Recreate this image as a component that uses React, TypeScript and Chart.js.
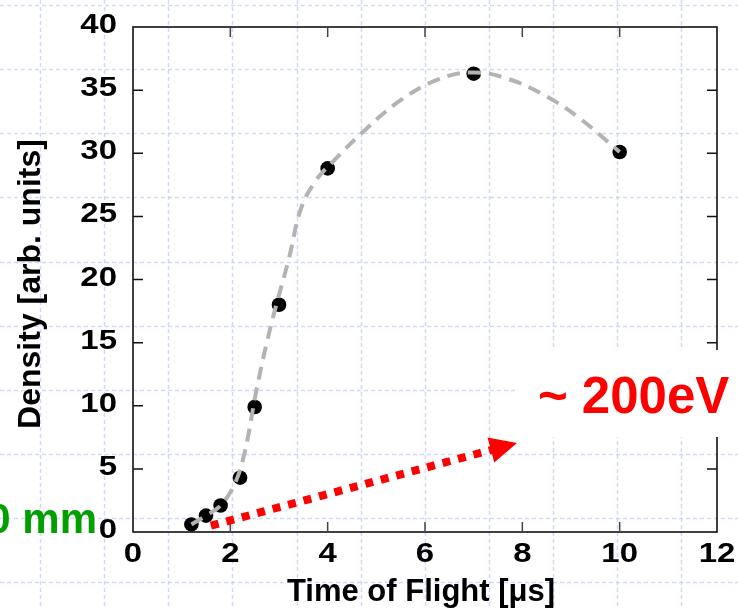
import React, { useEffect, useRef } from 'react';
import { Chart, registerables } from 'chart.js';

Chart.register(...registerables);

// ---- data ----
const measuredTime = [1.2, 1.5, 1.8, 2.2, 2.5, 3.0, 4.0, 7.0, 10.0];
const measuredDensity = [0.6, 1.3, 2.1, 4.3, 9.9, 18.0, 28.8, 36.3, 30.1];

const fitTime = [1.2, 1.5, 1.8, 2.1, 2.3, 2.55, 2.85, 3.2, 3.45, 3.75, 4.1, 4.7, 5.5, 6.3, 7.0, 7.7, 8.5, 9.2, 10.0];
const fitDensity = [0.6, 1.3, 2.1, 3.9, 6.4, 11.5, 16.6, 21.6, 25.6, 27.8, 29.3, 31.6, 34.2, 35.9, 36.4, 35.9, 34.5, 32.7, 30.1];

const xTickLabels = ['0', '2', '4', '6', '8', '10', '12'];
const yTickLabels = ['0', '5', '10', '15', '20', '25', '30', '35', '40'];

const xTitle = 'Time of Flight [\u03bcs]';
const yTitle = 'Density [arb. units]';
const energyLabel = '~ 200eV';
const distanceLabel = '0 mm';

// annotation anchors in data units (x: time, y: density)
const arrowFrom = { x: 1.6, y: 0.5 };
const arrowTo = { x: 7.89, y: 7.05 };
const energyAnchor = { x: 8.32, y: 9.43 };
const distanceAnchor = { x: -0.74, y: -0.08 };

const W = 738;
const H = 608;
const FONT = '"Liberation Sans", Arial, Helvetica, sans-serif';

function drawStretched(ctx: CanvasRenderingContext2D, text: string, x: number, y: number, align: CanvasTextAlign, sx: number) {
  ctx.save();
  ctx.translate(x, y);
  ctx.scale(sx, 1);
  ctx.textAlign = align;
  ctx.fillText(text, 0, 0);
  ctx.restore();
}

const backgroundPlugin = {
  id: 'slideBackground',
  beforeDraw(chart: any) {
    const ctx: CanvasRenderingContext2D = chart.ctx;
    ctx.save();
    ctx.fillStyle = '#ffffff';
    ctx.fillRect(0, 0, chart.width, chart.height);
    ctx.strokeStyle = 'rgba(185,203,245,0.7)';
    ctx.lineWidth = 1.5;
    ctx.setLineDash([4, 3]);
    const step = 64.15;
    for (let x = 40; x < chart.width; x += step) {
      ctx.beginPath();
      ctx.moveTo(Math.round(x) + 0.5, 0);
      ctx.lineTo(Math.round(x) + 0.5, chart.height);
      ctx.stroke();
    }
    for (let y = 5; y < chart.height; y += step) {
      ctx.beginPath();
      ctx.moveTo(0, Math.round(y) + 0.5);
      ctx.lineTo(chart.width, Math.round(y) + 0.5);
      ctx.stroke();
    }
    ctx.restore();
  },
};

const framePlugin = {
  id: 'frameAndText',
  afterDraw(chart: any) {
    const ctx: CanvasRenderingContext2D = chart.ctx;
    const xs = chart.scales.x;
    const ys = chart.scales.y;
    const a = chart.chartArea;
    ctx.save();

    // frame
    ctx.strokeStyle = '#111';
    ctx.lineWidth = 1.6;
    ctx.strokeRect(a.left, a.top, a.right - a.left, a.bottom - a.top);

    // inner ticks
    const tl = 10;
    ctx.lineWidth = 1.5;
    ctx.strokeStyle = '#444';
    xTickLabels.forEach((lab) => {
      const v = Number(lab);
      const px = xs.getPixelForValue(v);
      if (px <= a.left + 1 || px >= a.right - 1) return;
      ctx.beginPath();
      ctx.moveTo(px, a.bottom);
      ctx.lineTo(px, a.bottom - tl);
      ctx.moveTo(px, a.top);
      ctx.lineTo(px, a.top + tl);
      ctx.stroke();
    });
    ctx.strokeStyle = '#111';
    yTickLabels.forEach((lab) => {
      const v = Number(lab);
      const py = ys.getPixelForValue(v);
      if (py <= a.top + 1 || py >= a.bottom - 1) return;
      ctx.beginPath();
      ctx.moveTo(a.left, py);
      ctx.lineTo(a.left + tl, py);
      ctx.moveTo(a.right, py);
      ctx.lineTo(a.right - tl, py);
      ctx.stroke();
    });

    // tick labels
    ctx.fillStyle = '#000';
    ctx.font = `bold 27px ${FONT}`;
    ctx.textBaseline = 'alphabetic';
    const sx = 1.22;
    xTickLabels.forEach((lab) => {
      const px = xs.getPixelForValue(Number(lab));
      drawStretched(ctx, lab, px, a.bottom + 30, 'center', sx);
    });
    yTickLabels.forEach((lab) => {
      const py = ys.getPixelForValue(Number(lab));
      drawStretched(ctx, lab, a.left - 16, py + 6, 'right', sx);
    });

    // axis titles
    ctx.font = `bold 31px ${FONT}`;
    ctx.textAlign = 'center';
    ctx.fillText(xTitle, (a.left + a.right) / 2 - 4, 601);
    ctx.save();
    ctx.font = `bold 32px ${FONT}`;
    ctx.translate(40, 284);
    ctx.rotate(-Math.PI / 2);
    ctx.textAlign = 'center';
    ctx.fillText(yTitle, 0, 0);
    ctx.restore();

    // green distance label
    ctx.font = `bold 42px ${FONT}`;
    ctx.fillStyle = '#00a000';
    ctx.textAlign = 'right';
    ctx.fillText(distanceLabel, xs.getPixelForValue(distanceAnchor.x), ys.getPixelForValue(distanceAnchor.y));

    // red dotted arrow
    const x0 = xs.getPixelForValue(arrowFrom.x);
    const y0 = ys.getPixelForValue(arrowFrom.y);
    const x1 = xs.getPixelForValue(arrowTo.x);
    const y1 = ys.getPixelForValue(arrowTo.y);
    const ang = Math.atan2(y1 - y0, x1 - x0);
    const headLen = 27;
    const headHalf = 13;
    const bx = x1 - headLen * Math.cos(ang);
    const by = y1 - headLen * Math.sin(ang);
    ctx.strokeStyle = '#ff0000';
    ctx.fillStyle = '#ff0000';
    ctx.lineWidth = 8;
    ctx.lineCap = 'butt';
    ctx.setLineDash([8, 8]);
    ctx.beginPath();
    ctx.moveTo(x0, y0);
    ctx.lineTo(bx + 2 * Math.cos(ang), by + 2 * Math.sin(ang));
    ctx.stroke();
    ctx.setLineDash([]);
    ctx.beginPath();
    ctx.moveTo(x1, y1);
    ctx.lineTo(bx - headHalf * Math.sin(ang), by + headHalf * Math.cos(ang));
    ctx.lineTo(bx + headHalf * Math.sin(ang), by - headHalf * Math.cos(ang));
    ctx.closePath();
    ctx.fill();

    // energy label with white box
    ctx.font = `bold 51px ${FONT}`;
    const tx = xs.getPixelForValue(energyAnchor.x);
    const ty = ys.getPixelForValue(energyAnchor.y);
    const tw = ctx.measureText(energyLabel).width;
    ctx.fillStyle = '#ffffff';
    ctx.fillRect(tx - 21, ty - 63, tw + 60, 87);
    ctx.fillStyle = '#ff0000';
    ctx.textAlign = 'left';
    ctx.fillText(energyLabel, tx, ty);

    ctx.restore();
  },
};

export default function App() {
  const ref = useRef<HTMLCanvasElement | null>(null);

  useEffect(() => {
    document.body.style.margin = '0';
    const canvas = ref.current;
    if (!canvas) return;
    const chart = new Chart(canvas, {
      type: 'scatter',
      data: {
        datasets: [
          {
            label: 'fit',
            data: fitTime.map((x, i) => ({ x, y: fitDensity[i] })),
            showLine: true,
            borderColor: '#b3b3b3',
            borderWidth: 4,
            borderDash: [13, 8],
            pointRadius: 0,
            tension: 0.4,
            fill: false,
            clip: false,
          } as any,
          {
            label: 'measured',
            data: measuredTime.map((x, i) => ({ x, y: measuredDensity[i] })),
            showLine: false,
            pointRadius: 7.3,
            pointBackgroundColor: '#000',
            pointBorderColor: '#000',
            pointBorderWidth: 0,
            clip: false,
          } as any,
        ],
      },
      options: {
        animation: false,
        responsive: false,
        devicePixelRatio: 1,
        layout: { padding: { left: 0, top: 27, right: 21, bottom: 0 } },
        plugins: {
          legend: { display: false },
          tooltip: { enabled: false },
        },
        scales: {
          x: {
            type: 'linear',
            min: 0,
            max: 12,
            ticks: { display: false, stepSize: 2 },
            grid: { display: false },
            border: { display: false },
            afterFit: (s: any) => {
              s.height = 76;
            },
          },
          y: {
            type: 'linear',
            min: 0,
            max: 40,
            ticks: { display: false, stepSize: 5 },
            grid: { display: false },
            border: { display: false },
            afterFit: (s: any) => {
              s.width = 133;
            },
          },
        },
      },
      plugins: [backgroundPlugin, framePlugin],
    } as any);
    return () => chart.destroy();
  }, []);

  return (
    <div style={{ width: W, height: H }}>
      <canvas ref={ref} width={W} height={H} style={{ width: W, height: H, display: 'block' }} />
    </div>
  );
}
